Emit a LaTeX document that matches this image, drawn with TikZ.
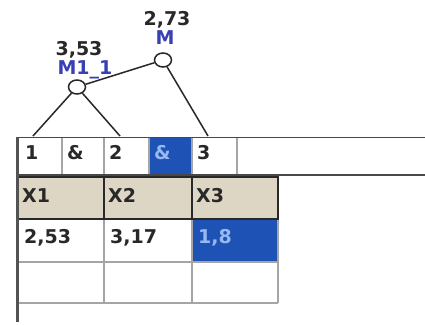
\documentclass[tikz,border=0pt]{standalone}
\usepackage{fontspec}
\setmainfont{DejaVu Sans}
\usetikzlibrary{shapes.geometric}
\definecolor{txt}{RGB}{40,40,40}
\definecolor{lbl}{RGB}{55,65,180}
\definecolor{selblue}{RGB}{30,82,180}
\definecolor{seltxt}{RGB}{150,185,240}
\definecolor{tan}{RGB}{222,214,196}
\definecolor{grid}{RGB}{165,165,165}
\definecolor{edge}{RGB}{40,40,40}
\begin{document}
\begin{tikzpicture}[x=1pt,y=-1pt,
  treenode/.style={ellipse,draw=edge,line width=1.5pt,fill=white,minimum width=17pt,minimum height=14pt,inner sep=0pt},
  conn/.style={draw=edge,line width=1.5pt},
  txtfont/.style={font=\fontsize{19}{19}\selectfont\bfseries},
  val/.style={txtfont,text=txt,inner sep=0pt,anchor=base},
  lblname/.style={txtfont,text=lbl,inner sep=0pt,anchor=base},
  cell/.style={txtfont,text=txt,inner sep=0pt,anchor=base west},
  selcell/.style={txtfont,text=seltxt,inner sep=0pt,anchor=base west},
  gridline/.style={draw=grid,line width=1.3pt},
  hdrline/.style={draw=edge,line width=1.8pt}]
\useasboundingbox (0,0) rectangle (425,324);
\fill[white] (0,0) rectangle (425,324);

% table fills
\fill[selblue] (150,138) rectangle (192,174);
\fill[tan] (18,176) rectangle (278,219);
\fill[selblue] (192,219) rectangle (278,262);

% formula row separators
\foreach \x in {62,104,149,192,237} \draw[gridline] (\x,138) -- (\x,175);
% grid of data rows
\draw[gridline] (18,262) -- (278,262);
\draw[gridline] (18,303) -- (278,303);
\foreach \x in {104,192,278} \draw[gridline] (\x,219) -- (\x,303);
% header borders
\draw[hdrline] (18,177) rectangle (104,219);
\draw[hdrline] (104,177) rectangle (192,219);
\draw[hdrline] (192,177) rectangle (278,219);
% outer lines
\draw[draw=edge!85,line width=1.8pt] (17,137.5) -- (425,137.5);
\draw[draw=edge!85,line width=1.8pt] (17,175) -- (425,175);
\draw[draw=edge!80,line width=3pt] (17,137) -- (17,322);

% table texts
\node[cell] (f1) at (25,159) {1};
\node[cell] (f2) at (67,159) {\&};
\node[cell] (f3) at (109,159) {2};
\node[selcell] (f4) at (154,159) {\&};
\node[cell] (f5) at (197,159) {3};
\node[cell] (h1) at (22,202) {X1};
\node[cell] (h2) at (108,202) {X2};
\node[cell] (h3) at (196,202) {X3};
\node[cell] (d1) at (24,243) {2,53};
\node[cell] (d2) at (110,243) {3,17};
\node[selcell] (d3) at (198,243) {1,8};

% tree
\node[treenode] (m) at (163,60) {};
\node[treenode] (m11) at (77,87) {};
\node[val] (v1) at (167,25) {2,73};
\node[lblname] (n1) at (165,44) {M};
\node[val] (v2) at (79,55.5) {3,53};
\node[lblname] (n2) at (85,74.5) {M1\_1};
\coordinate (e1) at (33,136);
\coordinate (e2) at (120,136);
\coordinate (e3) at (208,136);
\draw[conn] (m11) -- (m);
\draw[conn] (m11) -- (e1);
\draw[conn] (m11) -- (e2);
\draw[conn] (m) -- (e3);
\end{tikzpicture}
\end{document}
